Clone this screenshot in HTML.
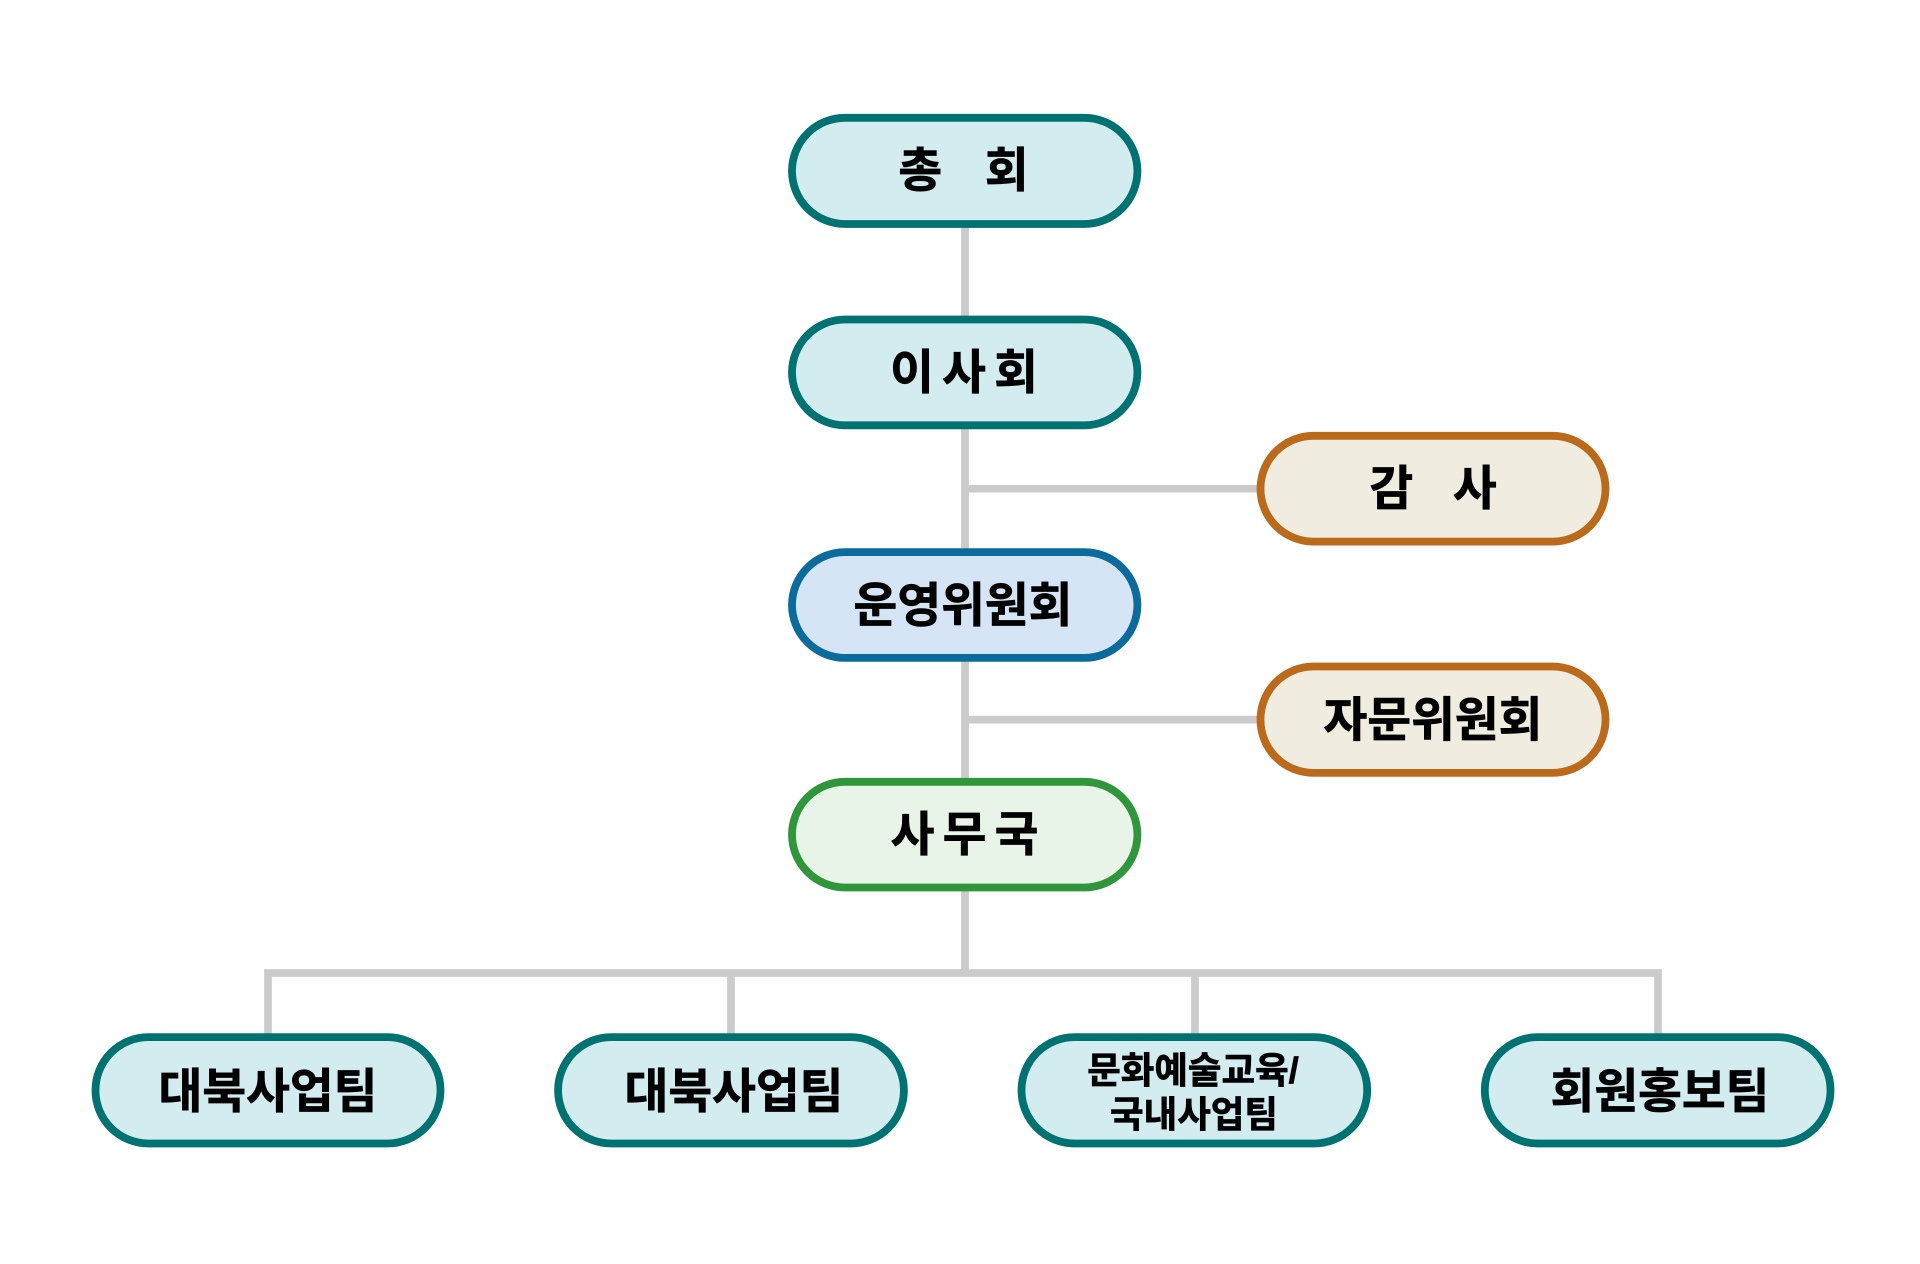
<!DOCTYPE html>
<html lang="ko"><head><meta charset="utf-8"><style>
html,body{margin:0;padding:0;background:#fff;width:1920px;height:1264px;overflow:hidden}
svg{display:block}
text{font-family:"Liberation Sans","Noto Sans CJK KR",sans-serif;font-weight:700;fill:#000;stroke:#000;stroke-width:.7px;text-anchor:middle;white-space:pre}
.b{font-size:47.6px}.s{font-size:36.5px}
.n{word-spacing:-5px}
.l{stroke:#cbcbcb;stroke-width:7.7;fill:none}
.t{fill:#d3ecf0;stroke:#007272;stroke-width:7.8}
.o{fill:#f0ecdf;stroke:#bb6a1c;stroke-width:7.8}
.u{fill:#d6e5f6;stroke:#0b6b9c;stroke-width:7.8}
.g{fill:#e9f4e9;stroke:#2f963b;stroke-width:7.8}
</style></head><body>
<svg width="1920" height="1264" viewBox="0 0 1920 1264" xmlns="http://www.w3.org/2000/svg">
<path class="l" d="M965 220V973M965 488.7H1265M965 719.6H1265M268 1040V973H1658V1040M731 973V1040M1195 973V1040"/>
<rect class="t" x="792" y="117.8" width="345.4" height="106.2" rx="53"/>
<rect class="t" x="792" y="319.5" width="345.4" height="105.8" rx="53"/>
<rect class="o" x="1260.5" y="435.8" width="345" height="105.8" rx="53"/>
<rect class="u" x="792" y="552.1" width="345.4" height="105.8" rx="53"/>
<rect class="o" x="1260.5" y="666.5" width="345" height="106.4" rx="53"/>
<rect class="g" x="792" y="781.8" width="345.4" height="105.7" rx="53"/>
<rect class="t" x="95.5" y="1037.1" width="345" height="106.4" rx="53"/>
<rect class="t" x="558.1" y="1037.1" width="345.8" height="106.4" rx="53"/>
<rect class="t" x="1021.5" y="1037.1" width="345.7" height="106.4" rx="53"/>
<rect class="t" x="1484.8" y="1037.1" width="345.7" height="106.4" rx="53"/>
<text class="b" x="963.5" y="187" xml:space="preserve" style="word-spacing:1px">총   회</text>
<text class="b n" x="964" y="389" xml:space="preserve">이 사 회</text>
<text class="b" x="1433" y="505" xml:space="preserve">감   사</text>
<text class="b" x="963" y="622">운영위원회</text>
<text class="b" x="1433" y="736.5">자문위원회</text>
<text class="b n" x="964.5" y="851" xml:space="preserve">사 무 국</text>
<text class="b" x="268" y="1108">대북사업팀</text>
<text class="b" x="734" y="1108">대북사업팀</text>
<text class="s" x="1193" y="1083">문화예술교육/</text>
<text class="s" x="1194" y="1127">국내사업팀</text>
<text class="b" x="1660" y="1108">회원홍보팀</text>
</svg>
</body></html>
